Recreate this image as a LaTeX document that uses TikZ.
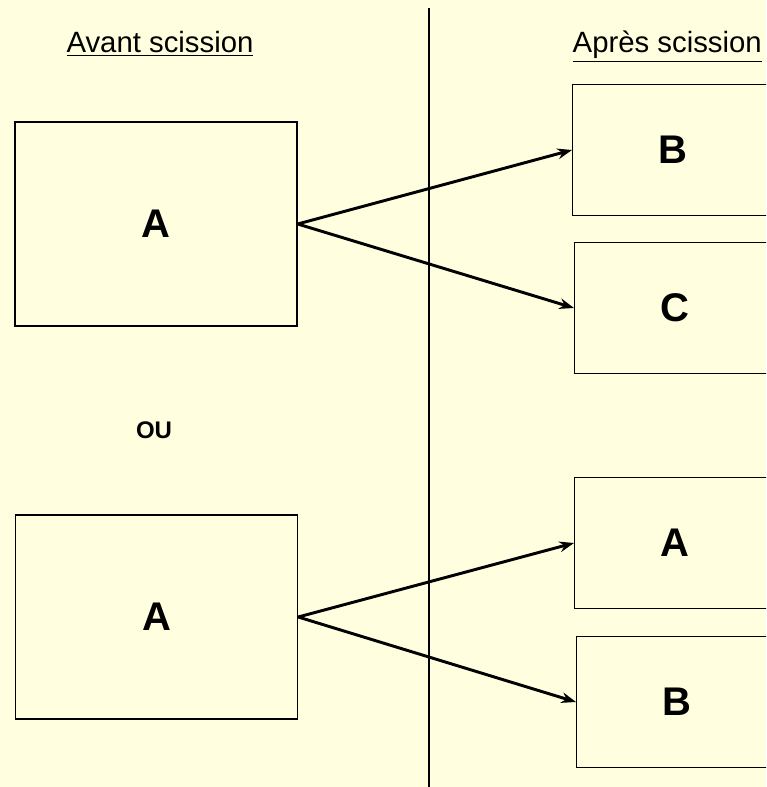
\documentclass[tikz,border=0pt]{standalone}
\usepackage{fontspec}
\setmainfont{Liberation Sans}
\usepackage{xcolor}
\usetikzlibrary{arrows.meta}
\usetikzlibrary{positioning}
\definecolor{paper}{HTML}{FFFFE0}
\tikzstyle{before} = [rectangle, minimum width=211.5pt, minimum height=153pt, draw=black, line width=1pt, font=\fontsize{30}{36}\selectfont\bfseries]
\tikzstyle{after} = [rectangle, anchor=west, minimum width=150pt, minimum height=98pt, draw=black, line width=1pt, font=\fontsize{30}{36}\selectfont\bfseries]
\tikzstyle{title} = [font=\fontsize{22}{26}\selectfont]
\tikzstyle{arrow} = [line width=2.2pt,-{Stealth[length=11pt,width=8pt]}]

\begin{document}
\begin{tikzpicture}[x=0.75pt, y=-0.75pt]
    \clip (0,0) rectangle (766,787);
    \fill[paper] (0,0) rectangle (766,787);
    \draw[line width=0.8pt] (429,8) -- (429,787);
    %
    \node(avant)[title, anchor=base] at (160,53) {\underline{Avant scission}};
    \node(apres)[title, anchor=base west] at (568,53) {\underline{Après scission}};
    %
    \node(src1)[before] at (156,224) {A};
    \node(b1)[after] at (572,150) {B};
    \node(c1)[after] at (574,308) {C};
    %
    \node(ou)[font=\fontsize{18}{22}\selectfont\bfseries] at (154,430) {OU};
    %
    \node(src2)[before] at (156.5,617) {A};
    \node(a2)[after] at (574,543) {A};
    \node(b2)[after] at (576,702) {B};
    %
    \draw[arrow](src1.east) -- (b1.west);
    \draw[arrow](src1.east) -- (c1.west);
    \draw[arrow](src2.east) -- (a2.west);
    \draw[arrow](src2.east) -- (b2.west);
  \end{tikzpicture}
\end{document}
